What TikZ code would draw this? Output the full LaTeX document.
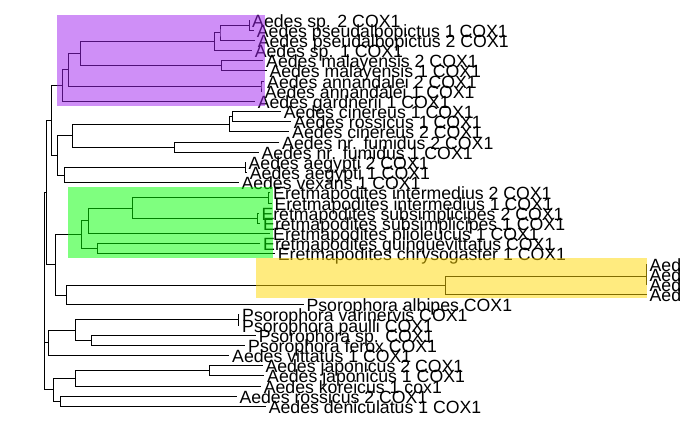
\documentclass[tikz,border=0pt]{standalone}
\usepackage{fontspec}
\setmainfont{Liberation Sans}
\definecolor{hlpurple}{HTML}{A020F0}
\definecolor{hlgreen}{HTML}{00FF00}
\definecolor{hlgold}{HTML}{FFD700}
\newcommand\labfont{\fontsize{17.7}{18}\selectfont}

\begin{document}
\begin{tikzpicture}[x=1pt,y=-1pt,line width=1pt,
        lab/.style={anchor=base west,inner sep=0pt,xshift=2.4pt,yshift=-7pt,font=\labfont},
        hilite/.style={fill opacity=0.5}]
    \useasboundingbox (0,0) rectangle (690,426);
        % tips
        \coordinate (t1) at (249.3,20.0);
        \coordinate (t2) at (254.0,30.17);
        \coordinate (t3) at (254.9,40.33);
        \coordinate (t4) at (251.9,50.5);
        \coordinate (t5) at (263.3,60.67);
        \coordinate (t6) at (266.6,70.83);
        \coordinate (t7) at (264.3,81.0);
        \coordinate (t8) at (262.0,91.17);
        \coordinate (t9) at (254.9,101.33);
        \coordinate (t10) at (281.0,111.5);
        \coordinate (t11) at (291.0,121.67);
        \coordinate (t12) at (289.3,131.83);
        \coordinate (t13) at (279.3,142.0);
        \coordinate (t14) at (258.6,152.17);
        \coordinate (t15) at (245.7,162.33);
        \coordinate (t16) at (247.0,172.5);
        \coordinate (t17) at (238.6,182.67);
        \coordinate (t18) at (270.3,192.83);
        \coordinate (t19) at (271.6,203.0);
        \coordinate (t20) at (258.6,213.17);
        \coordinate (t21) at (260.3,223.33);
        \coordinate (t22) at (270.3,233.5);
        \coordinate (t23) at (260.3,243.67);
        \coordinate (t24) at (274.9,253.83);
        \coordinate (t25) at (646.7,264.0);
        \coordinate (t26) at (646.7,274.17);
        \coordinate (t27) at (646.7,284.33);
        \coordinate (t28) at (646.7,294.5);
        \coordinate (t29) at (303.6,304.67);
        \coordinate (t30) at (239.3,314.83);
        \coordinate (t31) at (239.3,325.0);
        \coordinate (t32) at (255.9,335.17);
        \coordinate (t33) at (245.3,345.33);
        \coordinate (t34) at (229.3,355.5);
        \coordinate (t35) at (262.6,365.67);
        \coordinate (t36) at (264.3,375.83);
        \coordinate (t37) at (260.9,386.0);
        \coordinate (t38) at (236.6,396.17);
        \coordinate (t39) at (265.9,406.33);
        % inner nodes
        \coordinate (na) at (249.3,25.08);
        \coordinate (nb) at (220.0,32.7);
        \coordinate (nc) at (214.3,41.6);
        \coordinate (nd) at (221.5,65.75);
        \coordinate (ne) at (80.3,53.7);
        \coordinate (nf) at (261.0,86.1);
        \coordinate (ng) at (68.3,69.9);
        \coordinate (nh) at (62.3,85.6);
        \coordinate (ni) at (232.7,116.6);
        \coordinate (nj) at (229.3,124.2);
        \coordinate (nk) at (174.3,147.1);
        \coordinate (nl) at (72.3,135.65);
        \coordinate (nm) at (245.7,167.4);
        \coordinate (nn) at (64.3,175.0);
        \coordinate (no) at (57.3,155.3);
        \coordinate (np) at (51.3,120.5);
        \coordinate (nq) at (268.3,197.9);
        \coordinate (nr) at (257.3,218.25);
        \coordinate (ns) at (132.3,208.1);
        \coordinate (nt) at (88.3,220.8);
        \coordinate (nu) at (97.3,248.75);
        \coordinate (nv) at (81.3,234.8);
        \coordinate (nw) at (646.7,269.1);
        \coordinate (nx) at (646.3,276.7);
        \coordinate (ny) at (445.7,285.6);
        \coordinate (nz) at (66.3,295.1);
        \coordinate (naa) at (55.3,264.95);
        \coordinate (nab) at (46.3,192.7);
        \coordinate (nac) at (238.3,319.9);
        \coordinate (nad) at (91.3,340.25);
        \coordinate (nae) at (75.3,330.1);
        \coordinate (naf) at (48.3,342.8);
        \coordinate (nag) at (209.3,370.75);
        \coordinate (nah) at (75.3,378.4);
        \coordinate (nai) at (60.3,401.25);
        \coordinate (naj) at (53.3,389.8);
        \coordinate (root) at (44.3,291.3);
        % branches
        \draw (t1) -| (na) |- (t2);
        \draw (na) -| (nb) |- (t3);
        \draw (nb) -| (nc) |- (t4);
        \draw (t5) -| (nd) |- (t6);
        \draw (nc) -| (ne) |- (nd);
        \draw (t7) -| (nf) |- (t8);
        \draw (ne) -| (ng) |- (nf);
        \draw (ng) -| (nh) |- (t9);
        \draw (t10) -| (ni) |- (t11);
        \draw (ni) -| (nj) |- (t12);
        \draw (t13) -| (nk) |- (t14);
        \draw (nj) -| (nl) |- (nk);
        \draw (t15) -| (nm) |- (t16);
        \draw (nm) -| (nn) |- (t17);
        \draw (nl) -| (no) |- (nn);
        \draw (nh) -| (np) |- (no);
        \draw (t18) -| (nq) |- (t19);
        \draw (t20) -| (nr) |- (t21);
        \draw (nq) -| (ns) |- (nr);
        \draw (ns) -| (nt) |- (t22);
        \draw (t23) -| (nu) |- (t24);
        \draw (nt) -| (nv) |- (nu);
        \draw (t25) -| (nw) |- (t26);
        \draw (nw) -| (nx) |- (t27);
        \draw (nx) -| (ny) |- (t28);
        \draw (ny) -| (nz) |- (t29);
        \draw (nv) -| (naa) |- (nz);
        \draw (np) -| (nab) |- (naa);
        \draw (t30) -| (nac) |- (t31);
        \draw (t32) -| (nad) |- (t33);
        \draw (nac) -| (nae) |- (nad);
        \draw (nae) -| (naf) |- (t34);
        \draw (t35) -| (nag) |- (t36);
        \draw (nag) -| (nah) |- (t37);
        \draw (t38) -| (nai) |- (t39);
        \draw (nah) -| (naj) |- (nai);
        \draw (nab) -| (root) |- (naj);
        \draw (root |- naf) -- (naf);
        % tip labels
        \node[lab] (l1) at (t1) {Aedes sp. 2 COX1};
        \node[lab] (l2) at (t2) {Aedes pseudalbopictus 1 COX1};
        \node[lab] (l3) at (t3) {Aedes pseudalbopictus 2 COX1};
        \node[lab] (l4) at (t4) {Aedes sp. 1 COX1};
        \node[lab] (l5) at (t5) {Aedes malayensis 2 COX1};
        \node[lab] (l6) at (t6) {Aedes malayensis 1 COX1};
        \node[lab] (l7) at (t7) {Aedes annandalei 2 COX1};
        \node[lab] (l8) at (t8) {Aedes annandalei 1 COX1};
        \node[lab] (l9) at (t9) {Aedes gardnerii 1 COX1};
        \node[lab] (l10) at (t10) {Aedes cinereus 1 COX1};
        \node[lab] (l11) at (t11) {Aedes rossicus 1 COX1};
        \node[lab] (l12) at (t12) {Aedes cinereus 2 COX1};
        \node[lab] (l13) at (t13) {Aedes nr. fumidus 2 COX1};
        \node[lab] (l14) at (t14) {Aedes nr. fumidus 1 COX1};
        \node[lab] (l15) at (t15) {Aedes aegypti 2 COX1};
        \node[lab] (l16) at (t16) {Aedes aegypti 1 COX1};
        \node[lab] (l17) at (t17) {Aedes vexans 1 COX1};
        \node[lab] (l18) at (t18) {Eretmapodites intermedius 2 COX1};
        \node[lab] (l19) at (t19) {Eretmapodites intermedius 1 COX1};
        \node[lab] (l20) at (t20) {Eretmapodites subsimplicipes 2 COX1};
        \node[lab] (l21) at (t21) {Eretmapodites subsimplicipes 1 COX1};
        \node[lab] (l22) at (t22) {Eretmapodites plioleucus 1 COX1};
        \node[lab] (l23) at (t23) {Eretmapodites quinquevittatus COX1};
        \node[lab] (l24) at (t24) {Eretmapodites chrysogaster 1 COX1};
        \node[lab] (l25) at (t25) {Aed};
        \node[lab] (l26) at (t26) {Aed};
        \node[lab] (l27) at (t27) {Aed};
        \node[lab] (l28) at (t28) {Aed};
        \node[lab] (l29) at (t29) {Psorophora albipes COX1};
        \node[lab] (l30) at (t30) {Psorophora varinervis COX1};
        \node[lab] (l31) at (t31) {Psorophora paulli COX1};
        \node[lab] (l32) at (t32) {Psorophora sp. COX1};
        \node[lab] (l33) at (t33) {Psorophora ferox COX1};
        \node[lab] (l34) at (t34) {Aedes vittatus 1 COX1};
        \node[lab] (l35) at (t35) {Aedes japonicus 2 COX1};
        \node[lab] (l36) at (t36) {Aedes japonicus 1 COX1};
        \node[lab] (l37) at (t37) {Aedes koreicus 1 cox1};
        \node[lab] (l38) at (t38) {Aedes rossicus 2 COX1};
        \node[lab] (l39) at (t39) {Aedes deniculatus 1 COX1};
        % clade highlights
        \fill[hlpurple,hilite] (57,15) rectangle (265,105.6);
        \fill[hlgreen,hilite] (68,186.7) rectangle (272.7,257.5);
        \fill[hlgold,hilite] (256,257.5) rectangle (647.3,298.3);
    \end{tikzpicture}
\end{document}
